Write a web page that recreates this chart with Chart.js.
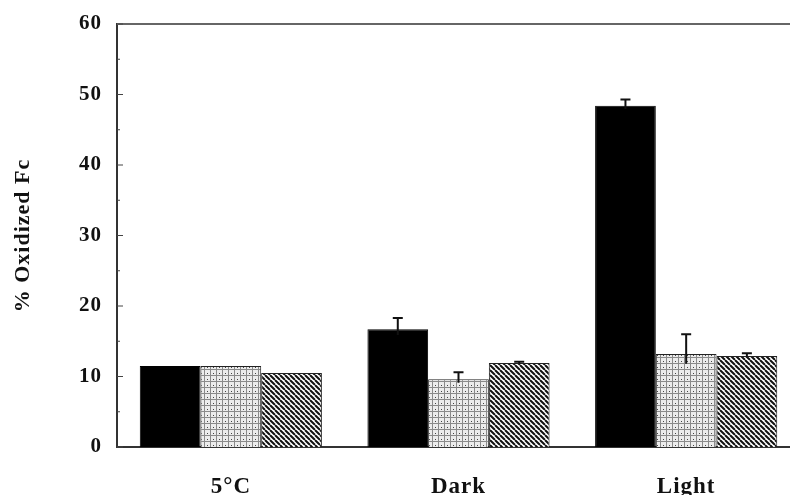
<!DOCTYPE html>
<html>
<head>
<meta charset="utf-8">
<script src="https://cdn.jsdelivr.net/npm/chart.js@4.4.1/dist/chart.umd.min.js"></script>
<style>
  html, body { margin: 0; padding: 0; background: #fff; overflow: hidden; }
  canvas { display: block; }
</style>
</head>
<body>
<canvas id="c" width="800" height="495"></canvas>
<script>
// Treatment groups and measured % oxidized Fc (mean, upper error)
const categories = ['5°C', 'Dark', 'Light'];
const solidValues = [11.5, 16.7, 48.4];
const solidErrors = [0, 1.6, 0.9];
const stippleValues = [11.5, 9.6, 13.2];
const stippleErrors = [0, 1.0, 2.8];
const hatchValues = [10.5, 11.9, 12.9];
const hatchErrors = [0, 0.2, 0.4];
const yTicks = [0, 10, 20, 30, 40, 50, 60];

const serif = '"Liberation Serif", "DejaVu Serif", serif';

function stipplePattern() {
  const c = document.createElement('canvas');
  c.width = 6; c.height = 6;
  const g = c.getContext('2d');
  g.fillStyle = '#ececec';
  g.fillRect(0, 0, 6, 6);
  g.fillStyle = '#8a8a8a';
  g.fillRect(0, 0, 1, 6);
  g.fillRect(0, 3, 6, 1);
  g.fillStyle = '#444';
  g.fillRect(3, 1, 1, 1);
  return c.getContext('2d').createPattern(c, 'repeat');
}

function hatchPattern() {
  const s = 5;
  const c = document.createElement('canvas');
  c.width = s; c.height = s;
  const g = c.getContext('2d');
  g.fillStyle = '#fff';
  g.fillRect(0, 0, s, s);
  g.strokeStyle = '#111';
  g.lineWidth = 2;
  g.beginPath();
  for (let k = -1; k <= 1; k++) {
    g.moveTo(k * s, 0);
    g.lineTo(k * s + s, s);
  }
  g.stroke();
  return g.createPattern(c, 'repeat');
}

// Slightly spaced lettering for all canvas text
const spacing = {
  id: 'spacing',
  beforeDraw(chart) { chart.ctx.letterSpacing = '1px'; }
};

// Upper error whiskers drawn from each bar's own scale position
const errorBars = {
  id: 'errorBars',
  afterDatasetsDraw(chart) {
    const ctx = chart.ctx;
    const y = chart.scales.y;
    ctx.save();
    ctx.strokeStyle = '#111';
    ctx.lineWidth = 2;
    chart.data.datasets.forEach((ds, i) => {
      const meta = chart.getDatasetMeta(i);
      meta.data.forEach((bar, j) => {
        const e = ds.errors[j];
        if (!e) return;
        const top = y.getPixelForValue(ds.data[j] + e);
        const bottom = y.getPixelForValue(ds.data[j] - e * 0.5);
        ctx.beginPath();
        ctx.moveTo(bar.x, bottom);
        ctx.lineTo(bar.x, top);
        ctx.moveTo(bar.x - 5, top);
        ctx.lineTo(bar.x + 5, top);
        ctx.stroke();
      });
    });
    ctx.restore();
  }
};

// Frame: top rule and inward ticks on the value axis
const frame = {
  id: 'frame',
  afterDraw(chart) {
    const { ctx, chartArea } = chart;
    const y = chart.scales.y;
    ctx.save();
    ctx.strokeStyle = '#666';
    ctx.lineWidth = 2;
    ctx.beginPath();
    ctx.moveTo(chartArea.left, chartArea.top);
    ctx.lineTo(chart.width, chartArea.top);
    ctx.stroke();
    ctx.strokeStyle = '#444';
    ctx.lineWidth = 1;
    ctx.beginPath();
    yTicks.forEach(v => {
      const p = y.getPixelForValue(v);
      ctx.moveTo(chartArea.left, p);
      ctx.lineTo(chartArea.left + 6, p);
      const m = y.getPixelForValue(v + 5);
      if (v < 60) {
        ctx.moveTo(chartArea.left, m);
        ctx.lineTo(chartArea.left + 3, m);
      }
    });
    ctx.stroke();
    ctx.restore();
  }
};

new Chart(document.getElementById('c'), {
  type: 'bar',
  data: {
    labels: categories,
    datasets: [
      { label: 'solid', data: solidValues, errors: solidErrors,
        backgroundColor: '#000', borderColor: '#000', borderWidth: 1 },
      { label: 'stipple', data: stippleValues, errors: stippleErrors,
        backgroundColor: stipplePattern(), borderColor: '#222', borderWidth: 1 },
      { label: 'hatch', data: hatchValues, errors: hatchErrors,
        backgroundColor: hatchPattern(), borderColor: '#222', borderWidth: 1 }
    ]
  },
  options: {
    responsive: false,
    animation: false,
    layout: { padding: { left: 10, top: 24, right: 0, bottom: 0 } },
    plugins: { legend: { display: false }, tooltip: { enabled: false } },
    scales: {
      x: {
        grid: { display: false },
        border: { display: true, color: '#333', width: 2 },
        ticks: { color: '#111', padding: 18, font: { family: serif, size: 23, weight: 'bold' } },
        afterFit(s) { s.height = 48; }
      },
      y: {
        min: 0, max: 60,
        grid: { display: false },
        border: { display: true, color: '#333', width: 2 },
        ticks: { stepSize: 10, color: '#111', padding: 7,
                 font: { family: serif, size: 21, weight: 'bold' } },
        title: { display: true, text: '% Oxidized Fc', color: '#111', padding: 0,
                 font: { family: serif, size: 22, weight: 'bold' } },
        afterFit(s) { s.width = 107; }
      }
    },
    datasets: { bar: { categoryPercentage: 0.8, barPercentage: 1.0 } }
  },
  plugins: [spacing, errorBars, frame]
});
</script>
</body>
</html>
